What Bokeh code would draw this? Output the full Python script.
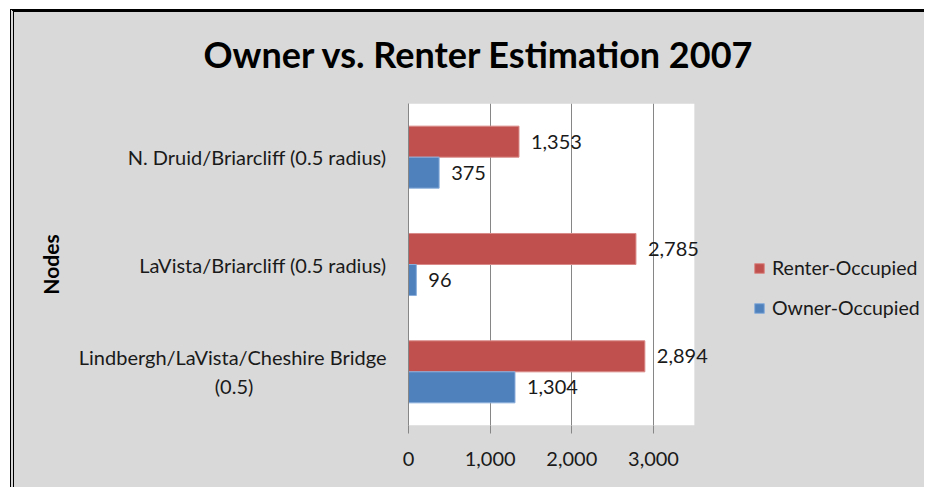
from bokeh.plotting import figure
from bokeh.models import (ColumnDataSource, FactorRange, Range1d, FixedTicker, Title,
                          NumeralTickFormatter, LabelSet, Legend, LegendItem, BoxAnnotation)
from bokeh.core.properties import value
from bokeh.transform import dodge
from bokeh.embed import file_html
from bokeh.resources import INLINE

# ---- data ----
nodes = ["Lindbergh/LaVista/Cheshire Bridge\n(0.5)" + " " * 26,
         "LaVista/Briarcliff (0.5 radius)",
         "N. Druid/Briarcliff (0.5 radius)"]
renter = [2894, 2785, 1353]
owner = [1304, 96, 375]
x_ticks = [0, 1000, 2000, 3000]
x_max = 3500
series_names = ["Renter-Occupied", "Owner-Occupied"]
title_text = "Owner vs. Renter Estimation 2007"
axis_title = "Nodes"

RED = "#C0504D"
BLUE = "#4F81BD"
BG = "#D9D9D9"
FONT = "Lato"

# layout constants
W, H = 914, 478
BL, BR, BT, BB = 394, 0, 91, 65
PX_PER_1000 = 81.67
x_end = (W - BL - BR) / PX_PER_1000 * 1000

src = ColumnDataSource(dict(
    node=nodes, renter=renter, owner=owner,
    renter_txt=[f"{v:,}" for v in renter],
    owner_txt=[f"{v:,}" for v in owner],
))

p = figure(width=W, height=H,
           y_range=FactorRange(factors=nodes, range_padding=0),
           x_range=Range1d(0, x_end),
           output_backend="svg", toolbar_location=None,
           min_border_left=BL, min_border_right=BR,
           min_border_top=BT, min_border_bottom=BB)
p.background_fill_color = BG
p.border_fill_color = BG
p.outline_line_color = None
p.styles = {"margin-left": "10px", "margin-top": "9px",
            "border-left": "4px double black", "border-top": "3px solid black",
            "background-color": BG}

# white plot area (0 .. x_max)
p.add_layout(BoxAnnotation(left=0, right=x_max, fill_color="white", fill_alpha=1,
                           line_color=None, level="image"))

bh = 0.289
off = 0.1445
r_ren = p.hbar(y=dodge("node", off, range=p.y_range), right="renter", left=0,
               height=bh, source=src, fill_color=RED, line_color="#D98A88", line_width=1)
r_own = p.hbar(y=dodge("node", -off, range=p.y_range), right="owner", left=0,
               height=bh, source=src, fill_color=BLUE, line_color="#8AAEDB", line_width=1)

for col, txt, o in (("renter", "renter_txt", off), ("owner", "owner_txt", -off)):
    p.add_layout(LabelSet(x=col, y=dodge("node", o, range=p.y_range), text=txt,
                          source=src, x_offset=12, text_baseline="middle",
                          text_font=value(FONT), text_font_size="20px",
                          text_color="#1a1a1a"))

# title
p.title.text = title_text
p.title.text_font = FONT
p.title.text_font_size = "36px"
p.title.text_font_style = "bold"
p.title.align = "left"
p.title.offset = -205
p.title.standoff = 10
p.title.text_color = "black"
p.add_layout(Title(text=" ", text_font_size="1px", standoff=20), "above")

# x axis
xa = p.xaxis[0]
xa.ticker = FixedTicker(ticks=x_ticks)
xa.formatter = NumeralTickFormatter(format="0,0")
xa.axis_line_color = None
xa.major_tick_in = 0
xa.major_tick_out = 8
xa.major_tick_line_color = "#868686"
xa.minor_tick_line_color = None
xa.major_label_text_font = FONT
xa.major_label_text_font_size = "20px"
xa.major_label_text_color = "#1a1a1a"
xa.major_label_standoff = 18

# y axis
ya = p.yaxis[0]
ya.axis_line_color = "#868686"
ya.major_tick_line_color = None
ya.minor_tick_line_color = None
ya.major_label_text_font = FONT
ya.major_label_text_font_size = "20px"
ya.major_label_text_color = "#1a1a1a"
ya.major_label_standoff = 16
ya.axis_label = axis_title
ya.axis_label_text_font = FONT
ya.axis_label_text_font_size = "21px"
ya.axis_label_text_font_style = "bold"
ya.axis_label_text_color = "black"
ya.axis_label_standoff = 13

p.xgrid.ticker = FixedTicker(ticks=x_ticks[1:])
p.xgrid.grid_line_color = "#868686"
p.ygrid.grid_line_color = None

legend = Legend(items=[LegendItem(label=series_names[0], renderers=[r_ren]),
                       LegendItem(label=series_names[1], renderers=[r_own])],
                location=(345, 106), padding=0, margin=0, spacing=17,
                glyph_width=12, glyph_height=12, label_standoff=7,
                label_text_font=FONT, label_text_font_size="19.5px",
                label_text_color="#1a1a1a",
                background_fill_alpha=0, border_line_color=None)
p.add_layout(legend, "center")

open("out.html", "w").write(file_html(p, INLINE))
